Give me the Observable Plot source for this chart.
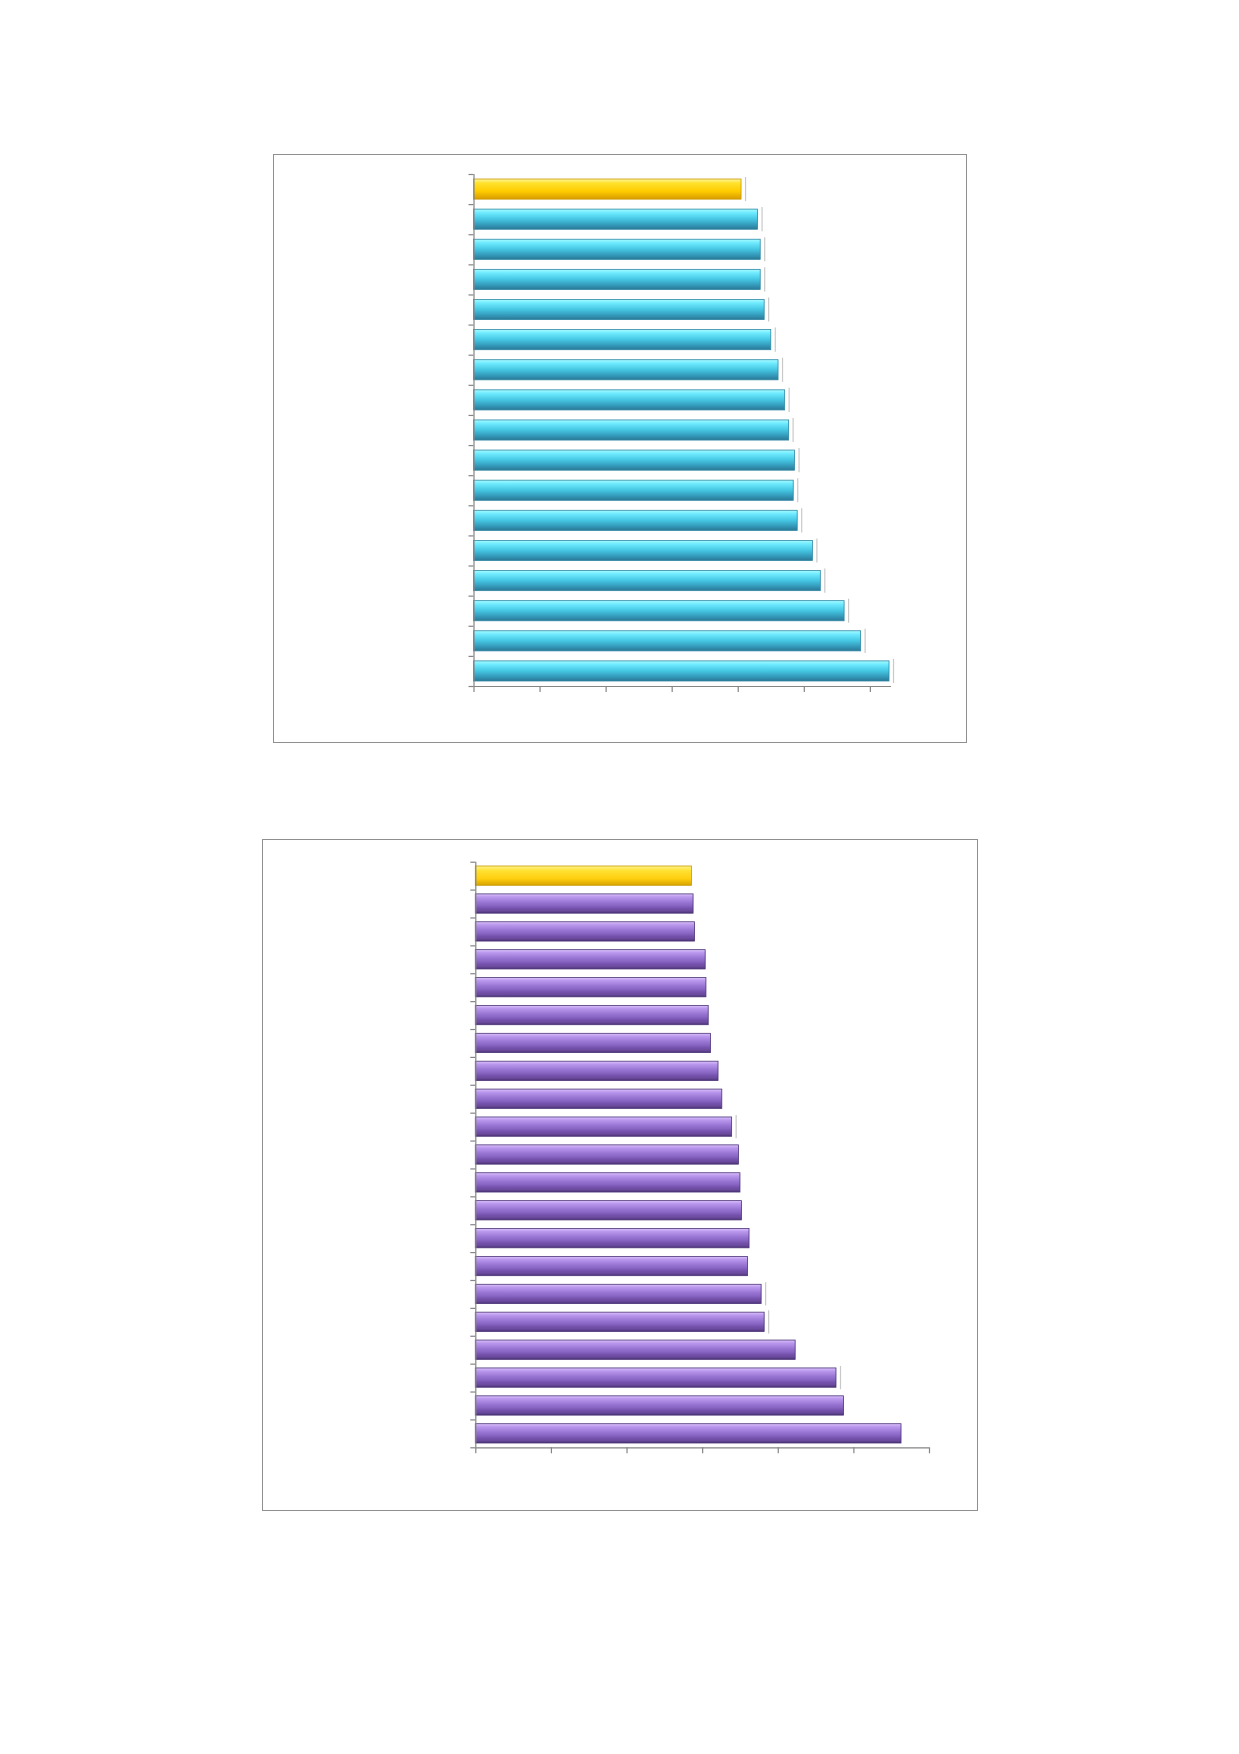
<!DOCTYPE html>
<html>
<head>
<meta charset="utf-8">
<script src="https://cdn.jsdelivr.net/npm/d3@7"></script>
<script src="https://cdn.jsdelivr.net/npm/@observablehq/plot@0.6"></script>
<style>
  html, body { margin: 0; padding: 0; background: #fff; }
  body { width: 1239px; height: 1754px; position: relative; overflow: hidden; font-family: "Liberation Sans", Arial, sans-serif; }
  .box { position: absolute; border: 1.6px solid #8f8f8f; box-sizing: border-box; }
  .chart { position: absolute; }
  .chart svg { display: block; overflow: visible; }
</style>
</head>
<body>
<div class="box" style="left:273px;top:154px;width:694px;height:589px;"></div>
<div class="box" style="left:262px;top:839px;width:716px;height:672px;"></div>
<div id="top" class="chart" style="left:274px;top:155px;"></div>
<div id="bottom" class="chart" style="left:263px;top:840px;"></div>
<script>
// ---- data (no category labels are printed) ----
const topCategories = ["1","2","3","4","5","6","7","8","9","10","11","12","13","14","15","16","17"];
const topValues = [4.05, 4.30, 4.34, 4.34, 4.40, 4.50, 4.61, 4.71, 4.77, 4.86, 4.84, 4.90, 5.13, 5.25, 5.61, 5.86, 6.29];
const topHighlight = ["1"];
const topXTicks = [0, 1, 2, 3, 4, 5, 6];
const topXMax = 6.32;

const bottomCategories = ["1","2","3","4","5","6","7","8","9","10","11","12","13","14","15","16","17","18","19","20","21"];
const bottomValues = [2.86, 2.88, 2.90, 3.04, 3.05, 3.08, 3.11, 3.21, 3.26, 3.39, 3.48, 3.50, 3.52, 3.62, 3.60, 3.78, 3.82, 4.23, 4.77, 4.87, 5.63];
const bottomHighlight = ["1"];
const bottomGhost = ["10", "16", "17", "19"];
const bottomXTicks = [0, 1, 2, 3, 4, 5, 6];
const bottomXMax = 6;

function addDefs(svg, defs) {
  const ns = "http://www.w3.org/2000/svg";
  const d = document.createElementNS(ns, "defs");
  for (const g of defs) {
    const lg = document.createElementNS(ns, "linearGradient");
    lg.setAttribute("id", g.id);
    lg.setAttribute("x1", "0"); lg.setAttribute("y1", "0");
    lg.setAttribute("x2", "0"); lg.setAttribute("y2", "1");
    for (const [o, c] of g.stops) {
      const s = document.createElementNS(ns, "stop");
      s.setAttribute("offset", o);
      s.setAttribute("stop-color", c);
      lg.appendChild(s);
    }
    d.appendChild(lg);
  }
  svg.insertBefore(d, svg.firstChild);
}

function makeChart({categories, values, highlight, ghost, xTicks, xMax, width, height, margins, inset, barFill, barStroke, hiFill, defs}) {
  const rows = categories.map((c, i) => ({cat: c, i, value: values[i]}));
  const n = categories.length;
  const yTicks = d3.range(0, n + 1);
  const axisColor = "#858585";
  const svg = Plot.plot({
    width, height,
    marginLeft: margins[3], marginRight: margins[1], marginTop: margins[0], marginBottom: margins[2],
    x: {domain: [0, xMax], axis: null},
    y: {domain: [n, 0], axis: null},
    marks: [
      Plot.rectX(rows.filter(d => !highlight.includes(d.cat)), {
        x1: 0, x2: "value", y1: d => d.i, y2: d => d.i + 1,
        insetTop: inset, insetBottom: inset,
        fill: barFill, stroke: barStroke, strokeWidth: 0.8
      }),
      Plot.rectX(rows.filter(d => highlight.includes(d.cat)), {
        x1: 0, x2: "value", y1: d => d.i, y2: d => d.i + 1,
        insetTop: inset, insetBottom: inset,
        fill: hiFill, stroke: "#c89a00", strokeWidth: 0.8
      }),
      Plot.ruleX(rows.filter(d => ghost === true || (Array.isArray(ghost) && ghost.includes(d.cat))), {
        x: "value", y1: d => d.i, y2: d => d.i + 1,
        dx: 4, insetTop: inset - 2, insetBottom: inset - 2,
        stroke: "#c9c9c9", strokeWidth: 1.2
      }),
      Plot.ruleX([0], {stroke: axisColor, strokeWidth: 1.2}),
      Plot.ruleY([n], {x1: 0, x2: xMax, stroke: axisColor, strokeWidth: 1.2}),
      Plot.ruleX(xTicks, {x: d => d, y1: n, y2: n, insetBottom: -6, stroke: axisColor, strokeWidth: 1.2}),
      Plot.ruleY(yTicks, {y: d => d, x1: 0, x2: 0, insetLeft: -5, stroke: axisColor, strokeWidth: 1.2})
    ]
  });
  addDefs(svg, defs);
  return svg;
}

const topSvg = makeChart({
  categories: topCategories, values: topValues, highlight: topHighlight, ghost: true,
  xTicks: topXTicks, xMax: topXMax,
  width: 693, height: 587, margins: [19, 76, 56, 199.5], inset: 5,
  barFill: "url(#cyanG)", barStroke: "#2f88a6", hiFill: "url(#yelG1)",
  defs: [
    {id: "cyanG", stops: [["0", "#a6fbff"], ["0.18", "#6eeaff"], ["0.5", "#45c6e2"], ["0.8", "#3397b8"], ["1", "#2a7895"]]},
    {id: "yelG1", stops: [["0", "#fff6a0"], ["0.2", "#ffe22e"], ["0.6", "#ffcc00"], ["1", "#d99c00"]]}
  ]
});
document.getElementById("top").appendChild(topSvg);

const bottomSvg = makeChart({
  categories: bottomCategories, values: bottomValues, highlight: bottomHighlight, ghost: bottomGhost,
  xTicks: bottomXTicks, xMax: bottomXMax,
  width: 715, height: 670, margins: [21.7, 49, 62.7, 212.3], inset: 4.3,
  barFill: "url(#purG)", barStroke: "#4c3478", hiFill: "url(#yelG2)",
  defs: [
    {id: "purG", stops: [["0", "#dcc4fb"], ["0.15", "#bb99ee"], ["0.45", "#9874d2"], ["0.6", "#8a66c4"], ["0.75", "#7552ad"], ["0.88", "#6a4a9c"], ["1", "#4a3275"]]},
    {id: "yelG2", stops: [["0", "#fff48a"], ["0.25", "#ffe030"], ["0.65", "#ffcf10"], ["1", "#d7a300"]]}
  ]
});
document.getElementById("bottom").appendChild(bottomSvg);
</script>
</body>
</html>
